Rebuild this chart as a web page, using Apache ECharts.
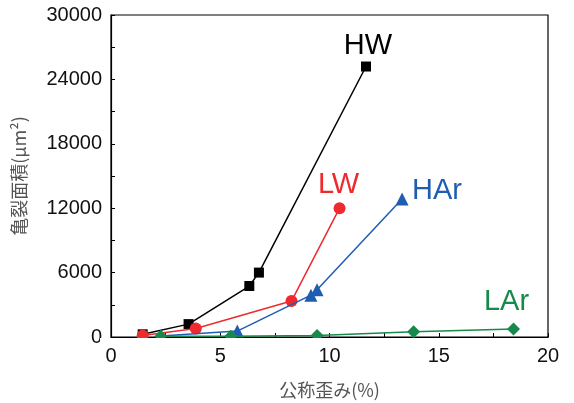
<!DOCTYPE html>
<html>
<head>
<meta charset="utf-8">
<script src="https://cdn.jsdelivr.net/npm/echarts@6/dist/echarts.min.js"></script>
<style>html,body{margin:0;padding:0;background:#fff}#c{width:574px;height:403px}</style>
</head>
<body>
<div id="c"></div>
<script>
// Data
const hwStrain  = [1.45, 3.55, 6.33, 6.77, 11.67];
const hwArea    = [250, 1200, 4750, 6000, 25200];
const lwStrain  = [1.45, 3.88, 8.26, 10.46];
const lwArea    = [150, 800, 3350, 12000];
const harStrain = [2.28, 5.78, 9.15, 9.43, 13.32];
const harArea   = [100, 550, 3900, 4400, 12850];
const larStrain = [2.28, 5.48, 9.43, 13.85, 18.42];
const larArea   = [80, 80, 150, 480, 750];
const xTicks = [0, 5, 10, 15, 20];
const yTicks = [0, 6000, 12000, 18000, 24000, 30000];
const seriesNames = ['HW', 'LW', 'HAr', 'LAr'];
const xTitle = '公称歪み(%)';
const yTitle = '亀裂面積(μm²)';

const colors = ['#000000', '#ee2a2e', '#1f5db0', '#17894a'];
const symbols = ['rect', 'circle', 'triangle', 'diamond'];
const symSizes = [10, 12, 13, 13];
const labelOffsets = [[2, -21], [-1, -23], [35, -8], [-7, -27]];

function pairs(xs, ys, idx) {
  return xs.map((x, i) => {
    const item = { value: [x, ys[i]] };
    if (i === xs.length - 1) {
      item.label = {
        show: true, position: 'inside', formatter: seriesNames[idx],
        offset: labelOffsets[idx], fontSize: 29, color: colors[idx],
        fontFamily: 'Liberation Sans, Arial, sans-serif'
      };
    }
    return item;
  });
}
const allX = [hwStrain, lwStrain, harStrain, larStrain];
const allY = [hwArea, lwArea, harArea, larArea];

const chart = echarts.init(document.getElementById('c'), null, { renderer: 'canvas' });
chart.setOption({
  animation: false,
  backgroundColor: '#fff',
  grid: { left: 111, right: 26, top: 15, bottom: 66, containLabel: false, outerBoundsMode: 'none',
    show: true, borderColor: '#000', borderWidth: 1.2, backgroundColor: 'transparent' },
  xAxis: {
    type: 'value', min: xTicks[0], max: xTicks[xTicks.length - 1], interval: 5,
    name: xTitle, nameLocation: 'middle', nameGap: 44,
    nameTextStyle: { fontSize: 18, color: '#555', fontFamily: 'Noto Sans CJK JP' },
    axisLine: { lineStyle: { color: '#000', width: 1.2 } },
    axisTick: { inside: true, length: 4, lineStyle: { color: '#000' } },
    minorTick: { show: true, splitNumber: 2, length: 4, lineStyle: { color: '#000' } },
    splitLine: { show: false },
    axisLabel: { fontSize: 20, color: '#111', margin: 9, fontFamily: 'Liberation Sans, Arial' }
  },
  yAxis: {
    type: 'value', min: yTicks[0], max: yTicks[yTicks.length - 1], interval: 6000,
    name: yTitle, nameLocation: 'middle', nameGap: 83, nameRotate: 90,
    nameTextStyle: { fontSize: 18, color: '#555', fontFamily: 'Noto Sans CJK JP' },
    axisLine: { lineStyle: { color: '#000', width: 1.2 } },
    axisTick: { inside: true, length: 4, lineStyle: { color: '#000' } },
    minorTick: { show: true, splitNumber: 2, length: 4, lineStyle: { color: '#000' } },
    splitLine: { show: false },
    axisLabel: { fontSize: 20, color: '#111', margin: 9, fontFamily: 'Liberation Sans, Arial',
      formatter: v => String(v) }
  },
  series: seriesNames.map((n, i) => ({
    name: n, type: 'line', data: pairs(allX[i], allY[i], i),
    symbol: symbols[i], symbolSize: symSizes[i], showAllSymbol: true,
    lineStyle: { color: colors[i], width: 1.5 },
    itemStyle: { color: colors[i] },
    z: 2 + i
  })),
  graphic: [{
    type: 'rect', z: 100, silent: true,
    shape: { x: 100, y: 338, width: 460, height: 6 },
    style: { fill: '#fff' }
  }]
});
</script>
</body>
</html>
